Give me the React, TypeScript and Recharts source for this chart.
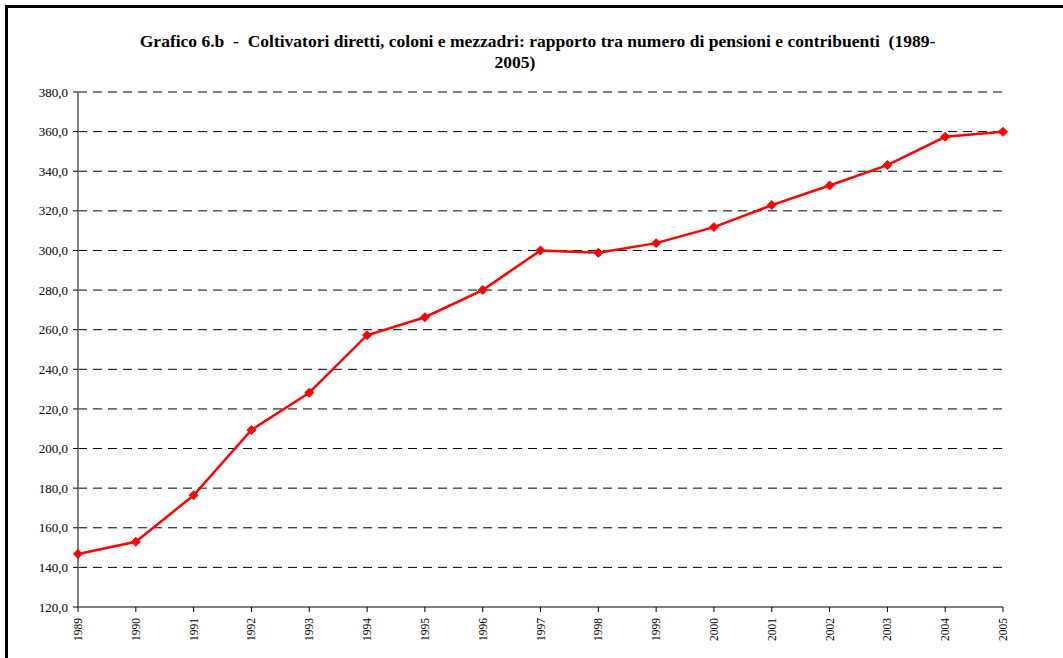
import React from 'react';
import { LineChart, Line, XAxis, YAxis, CartesianGrid } from 'recharts';

const years = ['1989','1990','1991','1992','1993','1994','1995','1996','1997','1998','1999','2000','2001','2002','2003','2004','2005'];
const ratio = [146.8, 152.9, 176.4, 209.4, 228.2, 257.2, 266.3, 280.0, 300.0, 298.8, 303.7, 311.8, 322.9, 332.8, 343.1, 357.4, 359.9];
const yTicks = [120, 140, 160, 180, 200, 220, 240, 260, 280, 300, 320, 340, 360, 380];
const titleLine1 = 'Grafico 6.b  -  Coltivatori diretti, coloni e mezzadri: rapporto tra numero di pensioni e contribuenti  (1989-';
const titleLine2 = '2005)';

const data = years.map((y, i) => ({ year: y, value: ratio[i] }));

const FONT = '"Liberation Serif", "Times New Roman", serif';

const Diamond = (props: any) => {
  const { cx, cy } = props;
  if (cx == null || cy == null) return null;
  const r = 4.5;
  return (
    <polygon
      points={`${cx},${cy - r} ${cx + r},${cy} ${cx},${cy + r} ${cx - r},${cy}`}
      fill="#FF0000"
      stroke="#FF0000"
      strokeWidth={1}
    />
  );
};

const XTick = (props: any) => {
  const { x, y, payload } = props;
  return (
    <text
      x={x}
      y={y}
      transform={`rotate(-90, ${x}, ${y})`}
      textAnchor="end"
      dominantBaseline="central"
      fontFamily={FONT}
      fontSize={11.5}
      fill="#000"
    >
      {payload.value}
    </text>
  );
};

export default function App() {
  return (
    <div style={{ position: 'absolute', left: 0, top: 0, width: 1063, height: 658, overflow: 'hidden', background: '#fff' }}>
      <div
        style={{
          position: 'absolute',
          left: 5,
          top: 5,
          width: 1058,
          height: 653,
          borderTop: '3px solid #000',
          borderLeft: '3px solid #000',
          boxSizing: 'border-box',
        }}
      />
      <div
        style={{
          position: 'absolute',
          left: 0,
          width: 1075,
          top: 31,
          textAlign: 'center',
          fontFamily: FONT,
          fontWeight: 'bold',
          fontSize: 17.5,
          lineHeight: '20px',
          whiteSpace: 'pre',
          color: '#000',
        }}
      >
        {titleLine1}
      </div>
      <div
        style={{
          position: 'absolute',
          left: 0,
          width: 1030,
          top: 52,
          textAlign: 'center',
          fontFamily: FONT,
          fontWeight: 'bold',
          fontSize: 17.5,
          lineHeight: '20px',
          whiteSpace: 'pre',
          color: '#000',
        }}
      >
        {titleLine2}
      </div>
      <div style={{ position: 'absolute', left: 0, top: 0 }}>
        <LineChart
          width={1063}
          height={658}
          data={data}
          margin={{ top: 92, right: 60, bottom: 0, left: 0 }}
        >
          <CartesianGrid
            vertical={false}
            horizontal
            stroke="#000"
            strokeDasharray="9 6"
            strokeWidth={1}
          />
          <XAxis
            dataKey="year"
            height={51}
            axisLine={{ stroke: '#808080', strokeWidth: 2 }}
            tickLine={{ stroke: '#000' }}
            tickSize={5}
            tickMargin={6}
            interval={0}
            tick={<XTick />}
          />
          <YAxis
            width={78}
            domain={[120, 380]}
            ticks={yTicks}
            interval={0}
            allowDataOverflow
            axisLine={{ stroke: '#808080', strokeWidth: 2 }}
            tickLine={{ stroke: '#000' }}
            tickSize={5}
            tickMargin={5}
            tickFormatter={(v: number) => v.toFixed(1).replace('.', ',')}
            tick={{ fontFamily: FONT, fontSize: 13, fill: '#000' }}
          />
          <Line
            type="linear"
            dataKey="value"
            stroke="#FF0000"
            strokeWidth={2.5}
            dot={<Diamond />}
            activeDot={false}
            isAnimationActive={false}
          />
        </LineChart>
      </div>
    </div>
  );
}
